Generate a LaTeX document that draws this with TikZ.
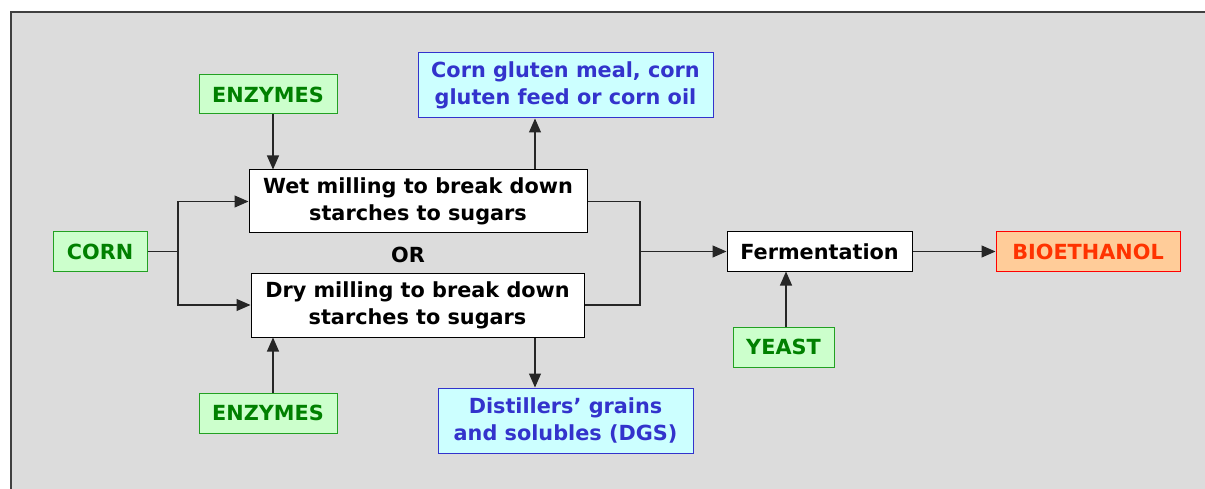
\documentclass[tikz,border=0pt]{standalone}
\usepackage{fontspec}
\setmainfont{DejaVu Sans}
\usetikzlibrary{arrows.meta}
\definecolor{bg}{HTML}{DCDCDC}
\definecolor{frame}{HTML}{404040}
\definecolor{gfill}{HTML}{CCFFCC}
\definecolor{gline}{HTML}{22A022}
\definecolor{gtext}{HTML}{008000}
\definecolor{bfill}{HTML}{CCFFFF}
\definecolor{bline}{HTML}{3333CC}
\definecolor{btext}{HTML}{3333CC}
\definecolor{ofill}{HTML}{FFCC99}
\definecolor{oline}{HTML}{FF0000}
\definecolor{otext}{HTML}{FF3300}
\tikzset{
  box/.style={draw, line width=1pt, inner sep=0pt, align=center,
    font=\bfseries\fontsize{20.8}{27}\selectfont},
  greenbox/.style={box, fill=gfill, draw=gline, text=gtext},
  bluebox/.style={box, fill=bfill, draw=bline, text=btext},
  whitebox/.style={box, fill=white, draw=black, text=black},
  orangebox/.style={box, fill=ofill, draw=oline, text=otext},
  arr/.style={-{Triangle[length=14pt,width=12pt]}, line width=1.1pt, draw=black!85},
  ln/.style={line width=1.1pt, draw=black!85},
}
\begin{document}
\begin{tikzpicture}[x=1pt,y=-1pt]
\useasboundingbox (0,0) rectangle (1205,489);
\fill[bg] (11,12) rectangle (1206,490);
\draw[frame, line width=2pt] (11,490) -- (11,12) -- (1206,12);

\node[greenbox, minimum width=138pt, minimum height=39pt] (enzA) at (268,94.5) {ENZYMES};
\node[whitebox, minimum width=338pt, minimum height=63pt] (wet) at (418,201.5) {Wet milling to break down\\starches to sugars};
\node[whitebox, minimum width=333pt, minimum height=64pt] (dry) at (417.5,305) {Dry milling to break down\\starches to sugars};
\node[font=\bfseries\fontsize{20.8}{27}\selectfont] (or) at (408,255) {OR};
\node[greenbox, minimum width=94pt, minimum height=39pt] (corn) at (100,251.5) {CORN};
\node[bluebox, minimum width=295pt, minimum height=65pt] (gluten) at (565.5,85.5) {Corn gluten meal, corn\\gluten feed or corn oil};
\node[bluebox, minimum width=255pt, minimum height=65pt] (dgs) at (565.5,420.5) {Distillers’ grains\\and solubles (DGS)};
\node[whitebox, minimum width=185pt, minimum height=39pt] (ferm) at (819.5,251.5) {Fermentation};
\node[orangebox, minimum width=184pt, minimum height=40pt] (bio) at (1088,251.5) {BIOETHANOL};
\node[greenbox, minimum width=101pt, minimum height=40pt] (yeast) at (783.5,347) {YEAST};
\node[greenbox, minimum width=138pt, minimum height=40pt] (enzB) at (268,413) {ENZYMES};

\coordinate (j1) at (178,251.5);
\coordinate (m) at (640,251.5);
\coordinate (ex) at (273,0);
\coordinate (gx) at (535,0);
\coordinate (yx) at (786,0);

\draw[ln] (corn.east) -- (j1);
\draw[arr] (j1) |- (wet.west);
\draw[arr] (j1) |- (dry.west);
\draw[arr] (enzA.south -| ex) -- (wet.north -| ex);
\draw[arr] (enzB.north -| ex) -- (dry.south -| ex);
\draw[arr] (wet.north -| gx) -- (gluten.south -| gx);
\draw[arr] (dry.south -| gx) -- (dgs.north -| gx);
\draw[ln] (wet.east) -| (m);
\draw[ln] (dry.east) -| (m);
\draw[arr] (m) -- (ferm.west);
\draw[arr] (yeast.north -| yx) -- (ferm.south -| yx);
\draw[arr] (ferm.east) -- (bio.west);
\end{tikzpicture}
\end{document}
